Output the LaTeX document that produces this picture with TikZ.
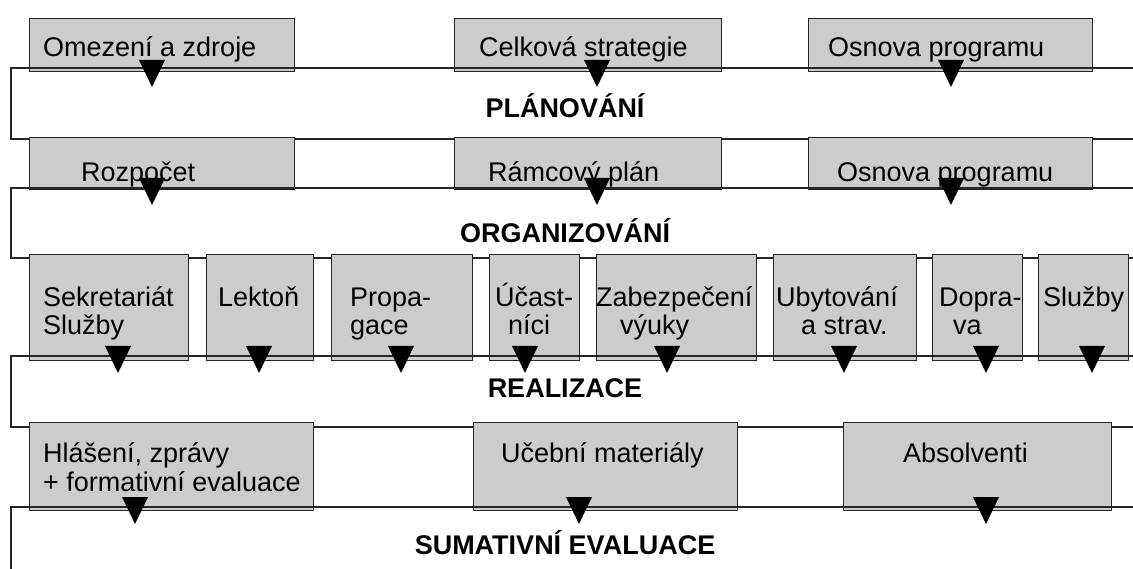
\documentclass[tikz,border=0pt]{standalone}
\usepackage{fontspec}
\setmainfont{Liberation Sans}
\begin{document}
\begin{tikzpicture}[x=1pt,y=-1pt,
  box/.style={draw=black!85, line width=1.4pt, fill=gray!40, inner sep=0pt, anchor=north west},
  lbl/.style={anchor=base west, inner sep=0pt, font=\fontsize{27}{28}\selectfont},
  head/.style={anchor=base, inner sep=0pt, font=\fontsize{27}{28}\selectfont\bfseries},
  band/.style={line width=1.2pt, draw=black!85},
  tri/.pic={\fill[black] (-13,0) -- (13,0) -- (0,27) -- cycle;}]
\useasboundingbox (0,0) rectangle (1133,569);
% band corner coordinates
\coordinate (b1r) at (1133,68);  \coordinate (b1l) at (11,68);
\coordinate (t2l) at (11,139);   \coordinate (t2r) at (1133,139);
\coordinate (b2r) at (1133,188); \coordinate (b2l) at (11,188);
\coordinate (t3l) at (11,258);   \coordinate (t3r) at (1133,258);
\coordinate (b3r) at (1133,356); \coordinate (b3l) at (11,356);
\coordinate (t4l) at (11,427);   \coordinate (t4r) at (1133,427);
\coordinate (b4r) at (1133,507); \coordinate (b4l) at (11,507);
\coordinate (endl) at (11,569);
% bands (behind boxes)
\draw[band] (b1r) -- (b1l) -- (t2l) -- (t2r);
\draw[band] (b2r) -- (b2l) -- (t3l) -- (t3r);
\draw[band] (b3r) -- (b3l) -- (t4l) -- (t4r);
\draw[band] (b4r) -- (b4l) -- (endl);
% row 1
\node[box, minimum width=265pt, minimum height=53pt] (a1) at (29,18) {};
\node[box, minimum width=267pt, minimum height=53pt] (a2) at (454,18) {};
\node[box, minimum width=284pt, minimum height=53pt] (a3) at (808,18) {};
% row 2
\node[box, minimum width=265pt, minimum height=52pt] (o1) at (29,137) {};
\node[box, minimum width=267pt, minimum height=52pt] (o2) at (454,137) {};
\node[box, minimum width=284pt, minimum height=52pt] (o3) at (808,137) {};
% row 3
\node[box, minimum width=159pt, minimum height=106pt] (r1) at (29,254) {};
\node[box, minimum width=107pt, minimum height=106pt] (r2) at (206,254) {};
\node[box, minimum width=141pt, minimum height=106pt] (r3) at (331,254) {};
\node[box, minimum width=90pt, minimum height=106pt] (r4) at (489,254) {};
\node[box, minimum width=160pt, minimum height=106pt] (r5) at (596,254) {};
\node[box, minimum width=143pt, minimum height=106pt] (r6) at (773,254) {};
\node[box, minimum width=90pt, minimum height=106pt] (r7) at (932,254) {};
\node[box, minimum width=90pt, minimum height=106pt] (r8) at (1038,254) {};
% row 4
\node[box, minimum width=284pt, minimum height=88pt] (s1) at (29,422) {};
\node[box, minimum width=264pt, minimum height=88pt] (s2) at (473,422) {};
\node[box, minimum width=268pt, minimum height=88pt] (s3) at (843,422) {};
% bottom lines over the boxes
\draw[band] (b1l) -- (b1r);
\draw[band] (b2l) -- (b2r);
\draw[band] (b3l) -- (b3r);
\draw[band] (b4l) -- (b4r);
% texts row 1
\node[lbl] (ta1) at (43,57) {Omezení a zdroje};
\node[lbl] (ta2) at (479,57) {Celková strategie};
\node[lbl] (ta3) at (828,57) {Osnova programu};
\node[head] (h1) at (565,118) {PLÁNOVÁNÍ};
% texts row 2
\node[lbl] (to1) at (81,182) {Rozpočet};
\node[lbl] (to2) at (488,182) {Rámcový plán};
\node[lbl] (to3) at (837,182) {Osnova programu};
\node[head] (h2) at (565,243) {ORGANIZOVÁNÍ};
% texts row 3
\node[lbl] (tr1a) at (43,307) {Sekretariát};
\node[lbl] (tr1b) at (43,335) {Služby};
\node[lbl] (tr2) at (218,307) {Lektoň};
\node[lbl] (tr3a) at (350,307) {Propa-};
\node[lbl] (tr3b) at (350,335) {gace};
\node[lbl] (tr4a) at (495,307) {Účast-};
\node[lbl] (tr4b) at (508,335) {níci};
\node[lbl] (tr5a) at (596,307) {Zabezpečení};
\node[lbl] (tr5b) at (620,335) {výuky};
\node[lbl] (tr6a) at (776,307) {Ubytování};
\node[lbl] (tr6b) at (801,335) {a strav.};
\node[lbl] (tr7a) at (939,307) {Dopra-};
\node[lbl] (tr7b) at (953,335) {va};
\node[lbl] (tr8) at (1043,307) {Služby};
\node[head] (h3) at (565,398) {REALIZACE};
% texts row 4
\node[lbl] (ts1a) at (43,462) {Hlášení, zprávy};
\node[lbl] (ts1b) at (43,491) {+ formativní evaluace};
\node[lbl] (ts2) at (501,462) {Učební materiály};
\node[lbl] (ts3) at (903,462) {Absolventi};
\node[head] (h4) at (565,554) {SUMATIVNÍ EVALUACE};
% triangles
\foreach \x in {152,597,951} \pic at (\x,60) {tri};
\foreach \x in {152,597,951} \pic at (\x,178) {tri};
\foreach \x in {118,259,401,525,667,844,986,1092} \pic at (\x,346) {tri};
\foreach \x in {135,579,986} \pic at (\x,497) {tri};
\end{tikzpicture}
\end{document}
